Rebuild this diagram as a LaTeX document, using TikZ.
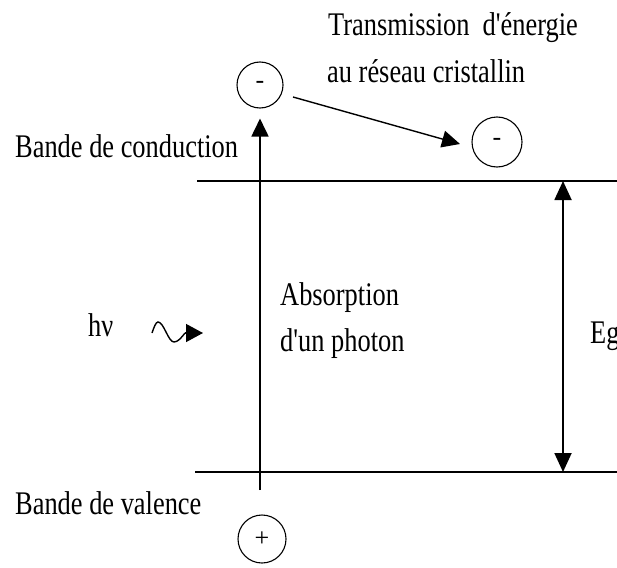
\documentclass[tikz,border=0pt]{standalone}
\usepackage{fontspec}
\setmainfont{Liberation Serif}[Ligatures=TeXOff]
\usetikzlibrary{arrows.meta}
\newcommand\sx[1]{\scalebox{0.8}[1]{#1}}
\begin{document}
\begin{tikzpicture}[x=1pt,y=-1pt,
  lbl/.style={anchor=base west, inner sep=0pt, font=\fontsize{33}{40}\selectfont},
  charge/.style={circle, draw, line width=1.1pt, inner sep=0pt, font=\fontsize{26}{30}\selectfont},
  band/.style={line width=1.8pt},
  thinline/.style={line width=1.4pt},
  tip/.style={-{Triangle[length=18pt,width=17pt]}},
  dtip/.style={{Triangle[length=19pt,width=17pt]}-{Triangle[length=19pt,width=17pt]}},
]
\useasboundingbox (0,0) rectangle (617,567);
\clip (0,0) rectangle (617,567);
% bands
\coordinate (cl) at (197,181); \coordinate (cr) at (617,181);
\coordinate (vl) at (195,472); \coordinate (vr) at (617,472);
\draw[band] (cl) -- (cr);
\draw[band] (vl) -- (vr);
% charges
\node[charge, minimum size=46pt] (e1) at (260,85) {-};
\node[charge, minimum size=50pt] (e2) at (497,142) {-};
\node[charge, minimum size=48pt] (h1) at (262,539) {+};
% absorption arrow
\coordinate (vbot) at (260,490);
\draw[band, tip, shorten >=10pt] (vbot) -- (e1.south);
% transfer arrow
\coordinate (a1) at (293,97); \coordinate (a2) at (460,144);
\draw[thinline, tip] (a1) -- (a2);
% gap arrow
\coordinate (g1) at (563,181); \coordinate (g2) at (563,472);
\draw[band, dtip] (g1) -- (g2);
% photon
\coordinate (w0) at (152,333); \coordinate (w4) at (185,333); \coordinate (wt) at (203,333);
\draw[thinline] (w0) sin (158,322) cos (166,332) sin (174,342) cos (w4);
\draw[thinline, -{Triangle[length=17pt,width=18pt]}] (w4) -- (wt);
% labels
\node[lbl] (tr) at (328,36) {\sx{Transmission\ \ d'énergie}};
\node[lbl] (ar) at (327,83) {\sx{au réseau cristallin}};
\node[lbl] (bc) at (15,157) {\sx{Bande de conduction}};
\node[lbl] (bv) at (15,514) {\sx{Bande de valence}};
\node[lbl] (ab) at (280,305) {\sx{Absorption}};
\node[lbl] (dp) at (280,351) {\sx{d'un photon}};
\node[lbl] (hv) at (88,336) {\sx{hν}};
\node[lbl] (eg) at (590,343) {\sx{Eg}};
\end{tikzpicture}
\end{document}
